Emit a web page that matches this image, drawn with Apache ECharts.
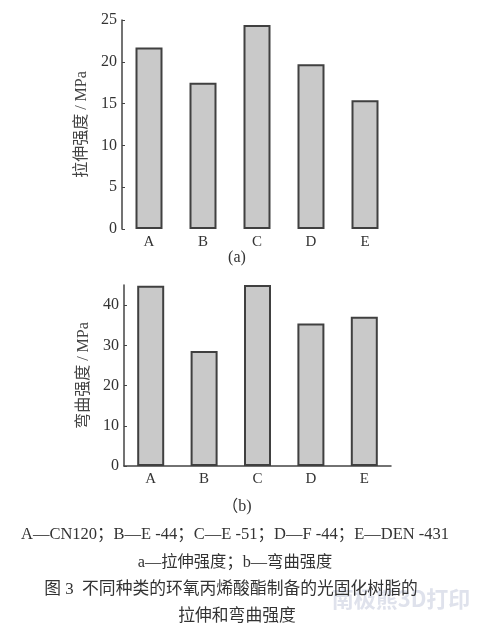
<!DOCTYPE html>
<html><head><meta charset="utf-8">
<script src="https://cdn.jsdelivr.net/npm/echarts@6/dist/echarts.min.js"></script>
<style>html,body{margin:0;padding:0;background:#fff}#c{width:479px;height:639px}</style>
</head><body><div id="c"></div>
<script>
const categories = ['A','B','C','D','E'];
const tensile = [21.7, 17.5, 24.4, 19.7, 15.4];
const flexural = [44.8, 28.6, 45.0, 35.4, 37.1];
const tensileTicks = [0,5,10,15,20,25];
const flexuralTicks = [0,10,20,30,40];
const legendLine = 'A—CN120；B—E ‑44；C—E ‑51；D—F ‑44；E—DEN ‑431';
const subLine = 'a—拉伸强度；b—弯曲强度';
const captionLine1 = '图 3  不同种类的环氧丙烯酸酯制备的光固化树脂的';
const captionLine2 = '拉伸和弯曲强度';

const FONT = '"Liberation Serif", "Noto Sans CJK SC", serif';
const TXT = '#333';
const chart = echarts.init(document.getElementById('c'));
const barStyle = {color:'#c9c9c9', borderColor:'#404040', borderWidth:2};
chart.setOption({
  animation:false,
  grid:[
    {left:122, top:20, width:270, height:209},
    {left:124, top:285, width:267, height:181}
  ],
  xAxis:[
    {gridIndex:0, type:'category', data:categories, axisLine:{show:false}, axisTick:{show:false},
     axisLabel:{color:TXT, fontFamily:FONT, fontSize:15, margin:6}},
    {gridIndex:1, type:'category', data:categories, axisLine:{lineStyle:{color:'#444', width:1.5}}, axisTick:{show:false},
     axisLabel:{color:TXT, fontFamily:FONT, fontSize:15, margin:6}}
  ],
  yAxis:[
    {gridIndex:0, type:'value', min:0, max:25, interval:5, splitLine:{show:false},
     axisLine:{show:true, lineStyle:{color:'#444', width:1.5}},
     axisTick:{show:true, inside:true, length:3, lineStyle:{color:'#444'}, customValues:tensileTicks},
     axisLabel:{color:TXT, fontFamily:FONT, fontSize:16, margin:5, customValues:tensileTicks},
     name:'拉伸强度 / MPa', nameLocation:'middle', nameGap:29, nameRotate:90,
     nameTextStyle:{color:'#444', fontFamily:FONT, fontSize:16}},
    {gridIndex:1, type:'value', min:0, max:45, interval:10, splitLine:{show:false},
     axisLine:{show:true, lineStyle:{color:'#444', width:1.5}},
     axisTick:{show:true, inside:true, length:3, lineStyle:{color:'#444'}, customValues:flexuralTicks},
     axisLabel:{color:TXT, fontFamily:FONT, fontSize:16, margin:5, customValues:flexuralTicks},
     name:'弯曲强度 / MPa', nameLocation:'middle', nameGap:28, nameRotate:90,
     nameTextStyle:{color:'#444', fontFamily:FONT, fontSize:16}}
  ],
  series:[
    {type:'bar', xAxisIndex:0, yAxisIndex:0, data:tensile, barWidth:27, itemStyle:barStyle},
    {type:'bar', xAxisIndex:1, yAxisIndex:1, data:flexural, barWidth:27, itemStyle:barStyle}
  ],
  graphic:[
    {type:'text', x:237, y:258, style:{text:'(a)', font:'16px '+FONT, fill:TXT, align:'center', verticalAlign:'middle'}},
    {type:'text', x:237, y:507, style:{text:'（b)', font:'16px '+FONT, fill:TXT, align:'center', verticalAlign:'middle'}},
    {type:'text', x:235, y:535, style:{text:legendLine, font:'16.5px '+FONT, fill:TXT, align:'center', verticalAlign:'middle'}},
    {type:'text', x:235, y:563, style:{text:subLine, font:'16.3px '+FONT, fill:TXT, align:'center', verticalAlign:'middle'}},
    {type:'text', x:401, y:599, z:-1, style:{text:'南极熊3D打印', font:'bold 22px "Noto Sans CJK SC", sans-serif', fill:'#dfe2ec', align:'center', verticalAlign:'middle'}},
    {type:'text', x:231, y:590, style:{text:captionLine1, font:'16.8px '+FONT, fill:TXT, align:'center', verticalAlign:'middle'}},
    {type:'text', x:237, y:617, style:{text:captionLine2, font:'16.8px '+FONT, fill:TXT, align:'center', verticalAlign:'middle'}}
  ]
});
</script></body></html>
